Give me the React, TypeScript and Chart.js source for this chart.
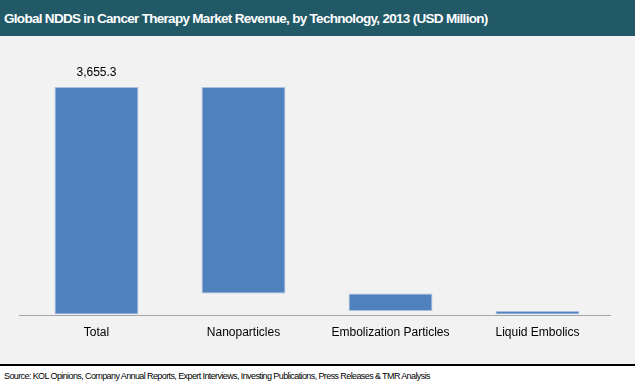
import React, { useEffect, useRef } from "react";
import { Chart, registerables } from "chart.js";

Chart.register(...registerables);

const TITLE = "Global NDDS in Cancer Therapy Market Revenue, by Technology, 2013 (USD Million)";
const SOURCE = "Source: KOL Opinions, Company Annual Reports, Expert Interviews, Investing Publications, Press Releases & TMR Analysis";

const categories = ["Total", "Nanoparticles", "Embolization Particles", "Liquid Embolics"];
const total = 3655.3;
const components = [3315.5, 280.0, 59.8];
const labelTexts = ["3,655.3", "", "", ""];

const FONT = "'Liberation Sans', Arial, sans-serif";

export default function App() {
  const ref = useRef<HTMLCanvasElement>(null);

  useEffect(() => {
    document.body.style.margin = "0";
    const ranges: [number, number][] = [[0, total]];
    let top = total;
    for (const v of components) {
      ranges.push([top - v, top]);
      top -= v;
    }

    const labelPlugin = {
      id: "barLabels",
      beforeDatasetsDraw(chart: any) {
        const ctx = chart.ctx;
        const y = chart.scales.y.getPixelForValue(0);
        ctx.save();
        ctx.strokeStyle = "#A6A6A6";
        ctx.lineWidth = 1;
        ctx.beginPath();
        ctx.moveTo(chart.chartArea.left - 4, Math.round(y) + 0.5);
        ctx.lineTo(chart.chartArea.right, Math.round(y) + 0.5);
        ctx.stroke();
        ctx.restore();
      },
      afterDatasetsDraw(chart: any) {
        const ctx = chart.ctx;
        const meta = chart.getDatasetMeta(0);
        ctx.save();
        ctx.font = `12px ${FONT}`;
        ctx.fillStyle = "#000000";
        ctx.textAlign = "center";
        ctx.textBaseline = "bottom";
        meta.data.forEach((el: any, i: number) => {
          if (!labelTexts[i]) return;
          ctx.fillText(labelTexts[i], el.x, el.y - 8);
        });
        ctx.restore();
      },
    };

    const chart = new Chart(ref.current!, {
      type: "bar",
      data: {
        labels: categories,
        datasets: [
          {
            data: ranges as any,
            backgroundColor: "#4F81BD",
            borderColor: "#A9C0DE",
            borderWidth: 1,
            borderSkipped: false,
            categoryPercentage: 1,
            barPercentage: 0.571,
          },
        ],
      },
      options: {
        animation: false,
        responsive: false,
        maintainAspectRatio: false,
        layout: { padding: { left: 23, right: 24, top: 17, bottom: 13 } },
        plugins: {
          legend: { display: false },
          title: { display: false },
          tooltip: { enabled: false },
        },
        scales: {
          x: {
            grid: { display: false, drawTicks: false },
            border: { display: false },
            ticks: {
              color: "#000000",
              font: { family: FONT, size: 12 },
              padding: 11,
            },
          },
          y: {
            display: false,
            min: 0,
            max: 4200,
          },
        },
      },
      plugins: [labelPlugin],
    });
    return () => chart.destroy();
  }, []);

  return (
    <div style={{ position: "relative", width: 635, height: 388, background: "#FFFFFF", overflow: "hidden" }}>
      <div
        style={{
          position: "absolute",
          left: 0,
          top: 0,
          width: 635,
          height: 36,
          background: "#215967",
          color: "#FFFFFF",
          fontFamily: FONT,
          fontWeight: "bold",
          fontSize: 13.5,
          letterSpacing: "-0.7px",
          lineHeight: "37px",
          paddingLeft: 4,
          boxSizing: "border-box",
          whiteSpace: "nowrap",
        }}
      >
        {TITLE}
      </div>
      <div style={{ position: "absolute", left: 0, top: 36, width: 635, height: 328, background: "#F2F2F2" }}>
        <canvas ref={ref} width={635} height={328} style={{ display: "block" }} />
      </div>
      <div style={{ position: "absolute", left: 0, top: 364, width: 635, height: 2, background: "#000000" }} />
      <div
        style={{
          position: "absolute",
          left: 4,
          top: 369,
          fontFamily: FONT,
          fontSize: 9,
          letterSpacing: "-0.6px",
          lineHeight: "14px",
          color: "#000000",
          whiteSpace: "nowrap",
        }}
      >
        {SOURCE}
      </div>
    </div>
  );
}
